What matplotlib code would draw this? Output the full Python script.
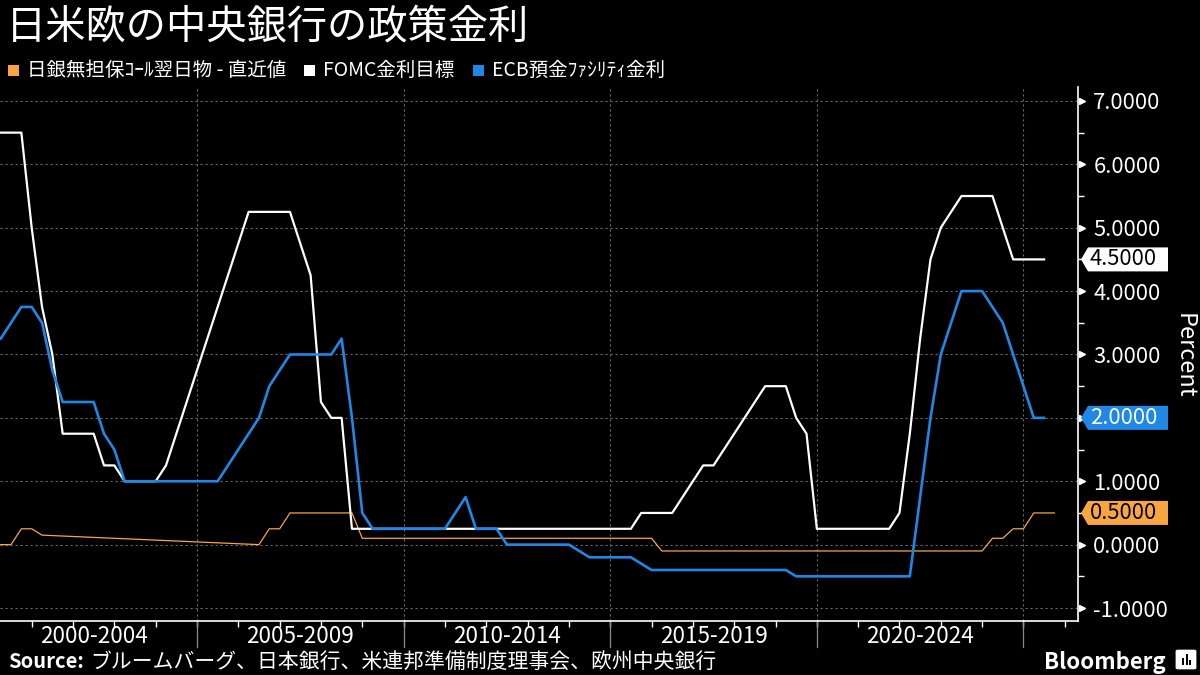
import numpy as np
import matplotlib
matplotlib.use('Agg')
import matplotlib.pyplot as plt
from matplotlib.patches import Polygon, Rectangle, FancyBboxPatch
import matplotlib.transforms as mtransforms

plt.rcParams['font.family'] = ['Noto Sans CJK JP', 'DejaVu Sans']

# ---------------- data (quarterly, first point = 2000Q2) ----------------
first_quarter = 2000.25
fed_upper = [
    6.5, 6.5, 6.5, 5.0, 3.75, 3.0, 1.75, 1.75, 1.75, 1.75,
    1.25, 1.25, 1.0, 1.0, 1.0, 1.0, 1.25, 1.75, 2.25, 2.75,
    3.25, 3.75, 4.25, 4.75, 5.25, 5.25, 5.25, 5.25, 5.25, 4.75,
    4.25, 2.25, 2.0, 2.0, 0.25, 0.25, 0.25, 0.25, 0.25, 0.25,
    0.25, 0.25, 0.25, 0.25, 0.25, 0.25, 0.25, 0.25, 0.25, 0.25,
    0.25, 0.25, 0.25, 0.25, 0.25, 0.25, 0.25, 0.25, 0.25, 0.25,
    0.25, 0.25, 0.5, 0.5, 0.5, 0.5, 0.75, 1.0, 1.25, 1.25,
    1.5, 1.75, 2.0, 2.25, 2.5, 2.5, 2.5, 2.0, 1.75, 0.25,
    0.25, 0.25, 0.25, 0.25, 0.25, 0.25, 0.25, 0.5, 1.75, 3.25,
    4.5, 5.0, 5.25, 5.5, 5.5, 5.5, 5.5, 5.0, 4.5, 4.5,
    4.5, 4.5,
]
ecb_deposit = [
    3.25, 3.5, 3.75, 3.75, 3.5, 2.75, 2.25, 2.25, 2.25, 2.25,
    1.75, 1.5, 1.0, 1.0, 1.0, 1.0, 1.0, 1.0, 1.0, 1.0,
    1.0, 1.0, 1.25, 1.5, 1.75, 2.0, 2.5, 2.75, 3.0, 3.0,
    3.0, 3.0, 3.0, 3.25, 2.0, 0.5, 0.25, 0.25, 0.25, 0.25,
    0.25, 0.25, 0.25, 0.25, 0.5, 0.75, 0.25, 0.25, 0.25, 0.0,
    0.0, 0.0, 0.0, 0.0, 0.0, 0.0, -0.1, -0.2, -0.2, -0.2,
    -0.2, -0.2, -0.3, -0.4, -0.4, -0.4, -0.4, -0.4, -0.4, -0.4,
    -0.4, -0.4, -0.4, -0.4, -0.4, -0.4, -0.4, -0.5, -0.5, -0.5,
    -0.5, -0.5, -0.5, -0.5, -0.5, -0.5, -0.5, -0.5, -0.5, 0.75,
    2.0, 3.0, 3.5, 4.0, 4.0, 4.0, 3.75, 3.5, 3.0, 2.5,
    2.0, 2.0,
]
nan = np.nan
boj_call = [
    0.0, 0.0, 0.25, 0.25, 0.15, nan, nan, nan, nan, nan,
    nan, nan, nan, nan, nan, nan, nan, nan, nan, nan,
    nan, nan, nan, nan, nan, 0.0, 0.25, 0.25, 0.5, 0.5,
    0.5, 0.5, 0.5, 0.5, 0.5, 0.1, 0.1, 0.1, 0.1, 0.1,
    0.1, 0.1, 0.1, 0.1, 0.1, 0.1, 0.1, 0.1, 0.1, 0.1,
    0.1, 0.1, 0.1, 0.1, 0.1, 0.1, 0.1, 0.1, 0.1, 0.1,
    0.1, 0.1, 0.1, 0.1, -0.1, -0.1, -0.1, -0.1, -0.1, -0.1,
    -0.1, -0.1, -0.1, -0.1, -0.1, -0.1, -0.1, -0.1, -0.1, -0.1,
    -0.1, -0.1, -0.1, -0.1, -0.1, -0.1, -0.1, -0.1, -0.1, -0.1,
    -0.1, -0.1, -0.1, -0.1, -0.1, -0.1, 0.1, 0.1, 0.25, 0.25,
    0.5, 0.5, 0.5,
]

period_labels = ['2000-2004', '2005-2009', '2010-2014', '2015-2019', '2020-2024']
period_starts = [2000, 2005, 2010, 2015, 2020]
y_ticks = [-1, 0, 1, 2, 3, 4, 5, 6, 7]

title = '日米欧の中央銀行の政策金利'
legend_labels = ['日銀無担保ｺｰﾙ翌日物 - 直近値', 'FOMC金利目標', 'ECB預金ﾌｧｼﾘﾃｨ金利']
source_text = 'ブルームバーグ、日本銀行、米連邦準備制度理事会、欧州中央銀行'

C_BOJ = '#f9a541'
C_FED = '#ffffff'
C_ECB = '#1f87e5'
GRID = '#6a6a6a'

W, H = 1200, 675
fig = plt.figure(figsize=(12, 6.75), dpi=100, facecolor='black')
ax_left, ax_right, ax_top, ax_bot = 0, 1078, 87, 620.7
ax = fig.add_axes([ax_left / W, (H - ax_bot) / H, (ax_right - ax_left) / W, (ax_bot - ax_top) / H])
ax.set_facecolor('black')
ax.set_xlim(2000.233, 2026.32)
ax.set_ylim(-1.2, 7.22)


def qx(values):
    return first_quarter + 0.25 * np.arange(len(values))


boj_arr = np.array(boj_call, dtype=float)
m = ~np.isnan(boj_arr)
ax.plot(qx(boj_arr)[m], boj_arr[m], color=C_BOJ, lw=0.9, zorder=3)
ax.plot(qx(fed_upper), fed_upper, color=C_FED, lw=1.6, zorder=4)
ax.plot(qx(ecb_deposit), ecb_deposit, color=C_ECB, lw=1.9, zorder=5)

# spines
for s in ['top', 'left']:
    ax.spines[s].set_visible(False)
for s in ['right', 'bottom']:
    ax.spines[s].set_color('white')
    ax.spines[s].set_linewidth(1.2)

# latest values (shown as tags on the axis)
latest = [(fed_upper[-1], C_FED, 'black'), (ecb_deposit[-1], C_ECB, 'white'),
          (boj_call[-1], C_BOJ, 'black')]
tagged = {round(v, 4) for v, _, _ in latest}

# y axis on right
ax.yaxis.tick_right()
ax.set_yticks(y_ticks)
ax.set_yticklabels(['' if round(v, 4) in tagged else f'{v:.4f}' for v in y_ticks])
ax.set_yticks(np.arange(-0.5, 7.0, 1.0), minor=True)
ax.tick_params(axis='y', which='major', length=0, pad=11, labelsize=15.8, labelcolor='white')
ax.tick_params(axis='y', which='minor', length=4, width=1, color='white', direction='out')
tri_tr = ax.get_yaxis_transform() + mtransforms.ScaledTranslation(0.035, 0, fig.dpi_scale_trans)
ax.plot(np.ones(len(y_ticks)), y_ticks, linestyle='none', marker='>', markersize=5,
        color='white', transform=tri_tr, clip_on=False, zorder=6)
fig.text(1184 / W, 1 - 356 / H, 'Percent', rotation=270, color='white', fontsize=17,
         va='center', ha='center')

# x axis
ax.set_xticks([s + 2.5 for s in period_starts])
ax.set_xticklabels(period_labels)
ax.set_xticks(np.arange(2001, 2027, 1), minor=True)
ax.tick_params(axis='x', which='major', length=0, pad=3, labelsize=16.2, labelcolor='white')
ax.tick_params(axis='x', which='minor', length=4, width=1, color='white', direction='out')

# grid
for v in y_ticks:
    ax.axhline(v, color=GRID, lw=0.8, ls=(0, (2, 2.5)), zorder=1)
sep_tr = ax.get_xaxis_transform()
for s in period_starts[1:] + [2025]:
    ax.axvline(s, color=GRID, lw=0.8, ls=(0, (2, 2.5)), zorder=1)
    ax.plot([s, s], [0, -(647 - ax_bot) / (ax_bot - ax_top)], color='#8a8a8a', lw=0.9,
            transform=sep_tr, clip_on=False)

fig.canvas.draw()
renderer = fig.canvas.get_renderer()


def tag(val, face, tcol):
    yd = ax.transData.transform((2010, val))[1]
    yp = yd * 100 / fig.dpi
    h = 12
    pts = [(1081, yp), (1088, yp + h), (1168, yp + h), (1168, yp - h), (1088, yp - h)]
    pts = [(px / W, py / H) for px, py in pts]
    fig.add_artist(Polygon(pts, closed=True, transform=fig.transFigure, facecolor=face,
                           edgecolor='none', zorder=10))
    fig.text(1090 / W, yp / H, f'{val:.4f}', color=tcol, fontsize=15.8, va='center', ha='left',
             zorder=11)


for v, face, tcol in latest:
    tag(v, face, tcol)

# title
fig.text(6 / W, 1 - 27 / H, title, color='white', fontsize=29, va='center', ha='left')

# legend (placed sequentially)
leg_y = 70
sx = 8
for col, lab in zip([C_BOJ, C_FED, C_ECB], legend_labels):
    fig.add_artist(Rectangle((sx / W, 1 - (leg_y + 5.5) / H), 11 / W, 11 / H,
                             transform=fig.transFigure, facecolor=col, edgecolor='none'))
    t = fig.text((sx + 19) / W, 1 - leg_y / H, lab, color='white', fontsize=14,
                 va='center', ha='left')
    bb = t.get_window_extent(renderer=renderer)
    sx = bb.x1 * 100 / fig.dpi + 18

# source
src_y = 1 - 662 / H
fig.text(8 / W, src_y, 'Source:', color='white', fontsize=14.5, fontweight='bold',
         va='center', ha='left')
fig.text(90 / W, src_y, source_text, color='white', fontsize=15, va='center', ha='left')

# Bloomberg mark
fig.text(1166 / W, src_y, 'Bloomberg', color='white', fontsize=16, fontweight='bold',
         va='center', ha='right')
fig.add_artist(FancyBboxPatch((1178 / W, 1 - 668 / H), 16 / W, 17 / H,
                              boxstyle='round,pad=0.002', transform=fig.transFigure,
                              facecolor='white', edgecolor='none'))
for bx, bh in [(1182, 7), (1185.5, 11), (1189, 5)]:
    fig.add_artist(Rectangle((bx / W, 1 - 665 / H), 2 / W, bh / H, transform=fig.transFigure,
                             facecolor='black', edgecolor='none'))

fig.savefig('out.png', dpi=100, facecolor='black')
